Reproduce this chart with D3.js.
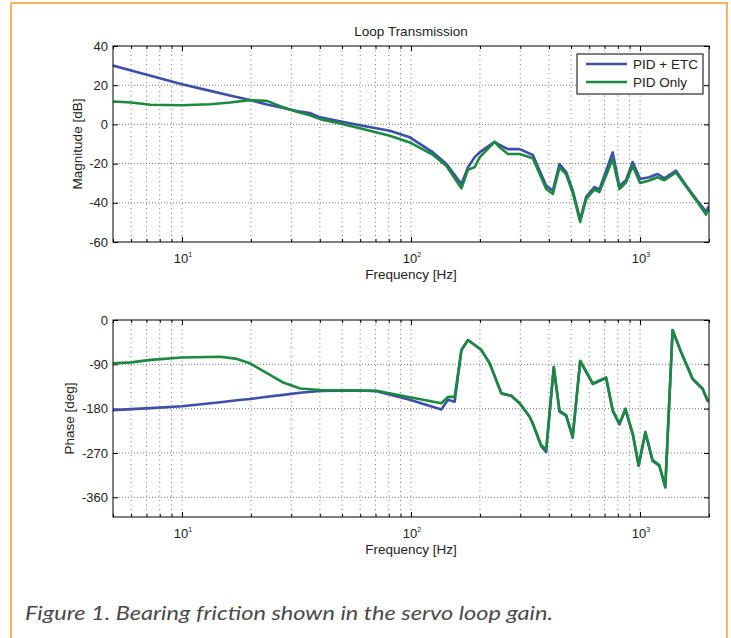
<!DOCTYPE html>
<html>
<head>
<meta charset="utf-8">
<script src="https://cdn.jsdelivr.net/npm/d3@7"></script>
<style>
  body { margin: 0; background: #fff; }
  svg { display: block; font-family: "Liberation Sans", Arial, sans-serif; }
</style>
</head>
<body>
<svg id="chart" width="731" height="638"></svg>
<script>
// ========= Data =========
const seriesNames = ["PID + ETC", "PID Only"];

// Magnitude panel: frequency [Hz] and gain [dB]
const magFreq = [5, 6, 7.3, 10, 13.3, 16.2, 19.8, 23.5, 27.7, 31.7,
  36.2, 40.1, 48.9, 59.8, 80.8, 98.8, 124.8, 142.8, 166, 177.4,
  189.7, 199.4, 231.8, 243.8, 264.9, 298, 340.4, 389.4, 416.2, 445,
  476, 508.5, 547.8, 581.9, 632.3, 664.8, 759.6, 812.6, 869, 928.6,
  1000, 1098, 1193, 1276, 1436, 1586, 1754, 1940, 2000];
const magEtc = [30, 27.5, 24.8, 20.5, 17.1, 14.8, 12.4, 10.2, 8.4, 6.8,
  5.8, 3.6, 1.6, -0.4, -3.2, -6.6, -14.3, -20.2, -30.4, -21.9,
  -16.7, -14.3, -8.9, -10.5, -12.6, -12.6, -15.6, -31.3, -33.8, -20.2,
  -24.3, -33.8, -48.5, -37, -32, -33.2, -14.3, -31.5, -28.3, -19.2,
  -27.9, -27, -25.3, -27.5, -23.6, -31, -38, -44.5, -41.5];
const magPid = [11.7, 11.2, 10.0, 9.8, 10.3, 11.2, 12.4, 12.0, 8.7, 6.4,
  4.7, 2.7, 0.5, -2.0, -5.8, -9.2, -15.6, -21.2, -32.6, -23.1,
  -21.8, -16.8, -8.9, -11.7, -15.1, -15.1, -17.3, -33, -35.5, -21.9,
  -25.5, -35, -49.8, -38, -33.2, -34.5, -17.7, -33, -29.5, -21.1,
  -29.9, -28.6, -27, -28.5, -24.5, -31.5, -38.5, -46, -42.5];

// Phase panel: frequency [Hz] and phase [deg]
const phaseFreq = [5, 6, 7.3, 10, 14.7, 17.4, 19.8, 23.5, 27.7, 32.8,
  40.1, 59.8, 70.7, 98.8, 135.8, 145, 155.1, 166, 177.4, 202.9,
  220.5, 248, 274.1, 298, 329, 340, 370, 389, 420, 445,
  476, 508, 548, 622, 711, 760, 813, 863, 929, 986,
  1055, 1134, 1214, 1289, 1387, 1509, 1695, 1874, 1970, 2000];
const phaseEtc = [-183, -181, -179, -175, -167, -163, -160.5, -156, -152, -147.6,
  -144, -143, -144.5, -162, -181.5, -162, -166, -61, -40.6, -61,
  -88, -149, -154, -169, -196, -210, -256, -268, -97, -186,
  -195, -239, -84, -130, -118, -185, -212, -182, -232, -296,
  -229, -286, -296, -340, -21, -65, -120, -140, -164, -166];
const phasePid = [-88, -86, -81, -76, -74.5, -79, -88, -108, -127, -139,
  -142, -143, -143.6, -157, -169, -156, -156, -61, -40.6, -61,
  -88, -149, -154, -169, -196, -210, -254, -263, -95, -184,
  -193, -237, -82.6, -128.7, -116.5, -183, -210, -180, -230, -294.6,
  -227, -284.5, -294.6, -338.7, -20.3, -64.4, -118.5, -138.8, -162.5, -165];

const freqDomain = [5, 2000];
const freqMajor = [10, 100, 1000];
const magTicks = [40, 20, 0, -20, -40, -60];
const phaseTicks = [0, -90, -180, -270, -360];

// ========= Styles / layout =========
const colors = ["#3d4fa9", "#1b8a3e"];
const plotLeft = 113, plotRight = 709;
const svg = d3.select("#chart");

const x = d3.scaleLog().domain(freqDomain).range([plotLeft, plotRight]);

function drawPanel(p) {
  const y = d3.scaleLinear().domain(p.yDomain).range([p.bottom, p.top]);
  const g = svg.append("g");
  const allX = x.ticks();
  const minorX = allX.filter(v => !freqMajor.includes(v));

  // grid
  g.append("g").selectAll("line")
    .data(allX.filter(v => v > freqDomain[0] && v < freqDomain[1]))
    .join("line")
    .attr("x1", d => x(d)).attr("x2", d => x(d))
    .attr("y1", p.top).attr("y2", p.bottom)
    .attr("stroke", "#555").attr("stroke-width", 0.8)
    .attr("stroke-dasharray", "1,3.5");
  g.append("g").selectAll("line")
    .data(p.ticks.filter(v => y(v) > p.top + 1 && y(v) < p.bottom - 1))
    .join("line")
    .attr("x1", plotLeft).attr("x2", plotRight)
    .attr("y1", d => y(d)).attr("y2", d => y(d))
    .attr("stroke", "#555").attr("stroke-width", 0.8)
    .attr("stroke-dasharray", "1,2");

  // inward ticks on all four sides
  const tickAxes = [
    [d3.axisBottom(x).tickValues(freqMajor).tickSizeInner(-5), `translate(0,${p.bottom})`],
    [d3.axisBottom(x).tickValues(minorX).tickSizeInner(-3), `translate(0,${p.bottom})`],
    [d3.axisTop(x).tickValues(freqMajor).tickSizeInner(-5), `translate(0,${p.top})`],
    [d3.axisTop(x).tickValues(minorX).tickSizeInner(-3), `translate(0,${p.top})`],
    [d3.axisRight(y).tickValues(p.ticks).tickSizeInner(-5), `translate(${plotRight},0)`]
  ];
  tickAxes.forEach(([ax, tr]) => {
    const a = g.append("g").attr("transform", tr)
      .call(ax.tickSizeOuter(0).tickFormat(""));
    a.select(".domain").remove();
    a.selectAll("line").attr("stroke", "#000");
  });

  // left axis with labels (plain hyphen minus, like the original)
  const left = g.append("g").attr("transform", `translate(${plotLeft},0)`)
    .call(d3.axisLeft(y).tickValues(p.ticks).tickSizeInner(-5).tickSizeOuter(0)
      .tickPadding(5).tickFormat(d => String(d)));
  left.select(".domain").remove();
  left.selectAll("line").attr("stroke", "#000");
  left.selectAll("text")
    .attr("font-family", "Liberation Sans, Arial, sans-serif")
    .attr("font-size", 13).attr("fill", "#222");

  // x tick labels 10^n
  const xl = g.append("g").selectAll("text")
    .data(freqMajor)
    .join("text")
    .attr("x", d => x(d) + 1)
    .attr("y", p.bottom + 21)
    .attr("text-anchor", "middle")
    .attr("font-size", 13).attr("fill", "#222");
  xl.append("tspan").text("10");
  xl.append("tspan").attr("dy", -6).attr("font-size", 7)
    .text(d => Math.round(Math.log10(d)));

  // axis labels
  g.append("text")
    .attr("x", (plotLeft + plotRight) / 2)
    .attr("y", p.bottom + 37)
    .attr("text-anchor", "middle")
    .attr("font-size", 13.5).attr("fill", "#222")
    .text("Frequency [Hz]");
  g.append("text")
    .attr("transform", `translate(${p.yLabelX},${(p.top + p.bottom) / 2}) rotate(-90)`)
    .attr("text-anchor", "middle")
    .attr("dy", "0.35em")
    .attr("font-size", 13.5).attr("fill", "#222")
    .text(p.yLabel);

  // curves
  const clipId = "clip-" + p.name;
  svg.append("clipPath").attr("id", clipId)
    .append("rect")
    .attr("x", plotLeft).attr("y", p.top)
    .attr("width", plotRight - plotLeft).attr("height", p.bottom - p.top);

  const line = d3.line().x(d => x(d[0])).y(d => y(d[1]));
  g.append("g").attr("clip-path", `url(#${clipId})`)
    .selectAll("path")
    .data(p.series)
    .join("path")
    .attr("d", d => line(d3.zip(p.freq, d)))
    .attr("fill", "none")
    .attr("stroke", (d, i) => colors[i])
    .attr("stroke-width", 2.6)
    .attr("stroke-linejoin", "round");

  // frame
  g.append("rect")
    .attr("x", plotLeft).attr("y", p.top)
    .attr("width", plotRight - plotLeft).attr("height", p.bottom - p.top)
    .attr("fill", "none").attr("stroke", "#000").attr("stroke-width", 1);

  return g;
}

// ========= Orange frame =========
svg.append("rect")
  .attr("x", 11).attr("y", 3)
  .attr("width", 716).attr("height", 700)
  .attr("fill", "none").attr("stroke", "#f4a236").attr("stroke-width", 1.6);

// ========= Panels =========
svg.append("text")
  .attr("x", (plotLeft + plotRight) / 2).attr("y", 36)
  .attr("text-anchor", "middle")
  .attr("font-size", 13.5).attr("fill", "#222")
  .text("Loop Transmission");

const magPanel = drawPanel({
  name: "mag", top: 46, bottom: 242, yDomain: [-60, 40], ticks: magTicks,
  freq: magFreq, series: [magEtc, magPid], yLabel: "Magnitude [dB]", yLabelX: 77
});

drawPanel({
  name: "phase", top: 320, bottom: 517, yDomain: [-400, 0], ticks: phaseTicks,
  freq: phaseFreq, series: [phaseEtc, phasePid], yLabel: "Phase [deg]", yLabelX: 69
});

// ========= Legend =========
const leg = magPanel.append("g");
leg.append("rect")
  .attr("x", 577).attr("y", 54).attr("width", 126).attr("height", 40)
  .attr("fill", "#fff").attr("stroke", "#000").attr("stroke-width", 1);
seriesNames.forEach((name, i) => {
  const ly = 64 + i * 18;
  leg.append("line")
    .attr("x1", 586).attr("x2", 627).attr("y1", ly).attr("y2", ly)
    .attr("stroke", colors[i]).attr("stroke-width", 2.6);
  leg.append("text")
    .attr("x", 633).attr("y", ly).attr("dy", "0.35em")
    .attr("font-size", 13.5).attr("fill", "#222")
    .text(name);
});

// ========= Caption =========
svg.append("text")
  .attr("x", 25).attr("y", 620)
  .attr("font-family", "Lato, 'Open Sans', sans-serif")
  .attr("font-style", "italic")
  .attr("font-size", 20)
  .attr("fill", "#4a4a4a")
  .attr("textLength", 528)
  .attr("lengthAdjust", "spacingAndGlyphs")
  .text("Figure 1. Bearing friction shown in the servo loop gain.");
</script>
</body>
</html>
